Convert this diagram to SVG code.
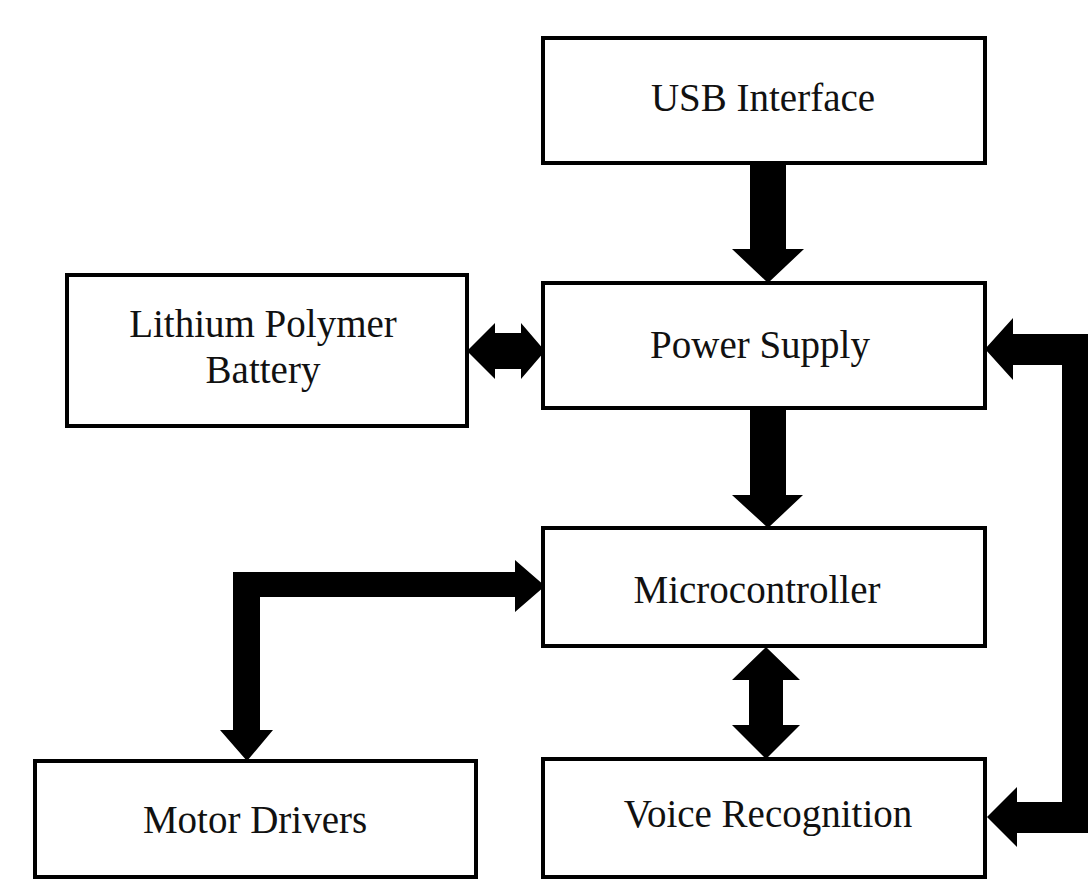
<svg xmlns="http://www.w3.org/2000/svg" width="1088" height="883" viewBox="0 0 1088 883">
<style>
.box{fill:#fff;stroke:#000;stroke-width:4}
.lbl{font-family:'Liberation Serif','Times New Roman',serif;font-size:39px;fill:#111;text-anchor:middle}
.arr{fill:#000;stroke:none}
</style>
<rect width="1088" height="883" fill="#fff"/>
<g id="usb"><rect class="box" x="543" y="38" width="442" height="125"/><text class="lbl" x="763" y="111">USB Interface</text></g>
<g id="battery"><rect class="box" x="67" y="275" width="400" height="151"/><text class="lbl" x="263" y="337">Lithium Polymer</text><text class="lbl" x="263" y="383">Battery</text></g>
<g id="power"><rect class="box" x="543" y="283" width="442" height="125"/><text class="lbl" x="760" y="358">Power Supply</text></g>
<g id="micro"><rect class="box" x="543" y="528" width="442" height="118"/><text class="lbl" x="757" y="603">Microcontroller</text></g>
<g id="motor"><rect class="box" x="35" y="761" width="441" height="116"/><text class="lbl" x="255" y="833">Motor Drivers</text></g>
<g id="voice"><rect class="box" x="543" y="759" width="442" height="118"/><text class="lbl" x="768" y="827">Voice Recognition</text></g>
<g id="connectors">
<polygon class="arr" points="750,163 786,163 786,249 804,249 768,283 732,249 750,249"/>
<polygon class="arr" points="750,408 786,408 786,495 803,495 768,528 732,495 750,495"/>
<polygon class="arr" points="467,351 495,323 495,333 521,333 521,323 545,351 521,379 521,369 495,369 495,379"/>
<polygon class="arr" points="766,647 800,680 783,680 783,725 800,725 766,759 732,725 749,725 749,680 732,680"/>
<polygon class="arr" points="233,572 515,572 515,560 545,586 515,612 515,597 260,597 260,730 273,730 247,761 220,730 233,730"/>
<polygon class="arr" points="985,349 1013,318 1013,334 1100,334 1100,833 1017,833 1017,847 987,817 1017,787 1017,802 1062,802 1062,365 1013,365 1013,380"/>
</g>
</svg>
